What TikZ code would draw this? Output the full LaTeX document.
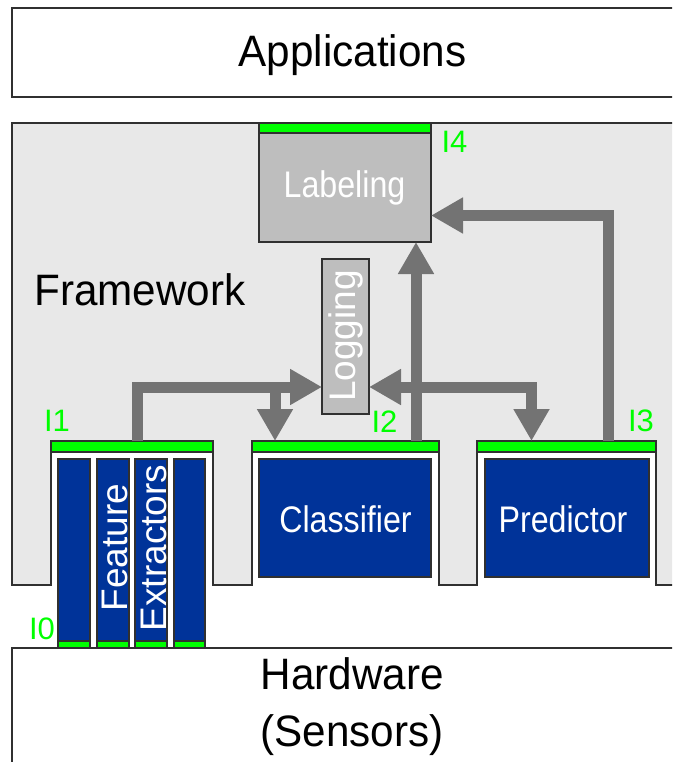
\documentclass[tikz,border=0pt]{standalone}
\usepackage{fontspec}
\usepackage{graphicx}
\setmainfont{Liberation Sans}
\usetikzlibrary{arrows.meta}
\definecolor{fwgray}{HTML}{E8E8E8}
\definecolor{lggray}{HTML}{BEBEBE}
\definecolor{modblue}{HTML}{003399}
\definecolor{ifgreen}{HTML}{00FF00}
\definecolor{arrgray}{HTML}{737373}
\definecolor{edgec}{HTML}{303030}
\newcommand{\bigtxt}[1]{\fontsize{44}{44}\selectfont\scalebox{0.96}[1]{#1}}
\newcommand{\midtxt}[1]{\fontsize{37}{37}\selectfont\scalebox{0.87}[1]{#1}}
\begin{document}
\begin{tikzpicture}[x=1pt,y=1pt,
  rbox/.style={draw=edgec, line width=1.2pt, inner sep=0pt, outer sep=0pt, anchor=north west},
  gbar/.style={rbox, fill=ifgreen},
  modbox/.style={rbox, fill=modblue},
  lgbox/.style={rbox, fill=lggray},
  whitebox/.style={rbox, fill=white},
  iflabel/.style={font=\fontsize{31}{31}\selectfont, text=ifgreen, inner sep=0pt},
  vtxt/.style={font=\fontsize{37}{37}\selectfont, text=white, inner sep=0pt, rotate=90, anchor=base},
  plaintxt/.style={inner sep=0pt},
  arr/.style={draw=arrgray, line width=11pt, line join=miter,
    -{Triangle[length=32pt,width=34pt]}},
  darr/.style={draw=arrgray, line width=11pt, line join=miter,
    {Triangle[length=32pt,width=34pt]}-{Triangle[length=32pt,width=34pt]}}
]
\useasboundingbox (0,0) rectangle (672,-762);
\clip (0,0) rectangle (672,-762);
\fill[white] (0,0) rectangle (672,-762);

% Applications
\node[whitebox, minimum width=700pt, minimum height=89pt] (app) at (12,-8) {};
\node[plaintxt, anchor=base] (apptxt) at (352.5,-67) {\bigtxt{Applications}};

% Framework area with notches
\draw[draw=edgec, line width=1.2pt, fill=fwgray]
  (12,-123) -- (700,-123) -- (700,-585) -- (656,-585) -- (656,-441)
  -- (477,-441) -- (477,-585) -- (439,-585) -- (439,-441)
  -- (252,-441) -- (252,-585) -- (213,-585) -- (213,-441)
  -- (51,-441) -- (51,-585) -- (12,-585) -- cycle;
\node[plaintxt, anchor=base west] (fwtxt) at (34,-305) {\bigtxt{Framework}};

% Hardware
\node[whitebox, minimum width=700pt, minimum height=150pt] (hw) at (12,-648) {};
\node[plaintxt, anchor=base] (hwtxt1) at (352.5,-689) {\bigtxt{Hardware}};
\node[plaintxt, anchor=base] (hwtxt2) at (352,-746) {\bigtxt{(Sensors)}};

% Labeling
\node[gbar, minimum width=172pt, minimum height=10pt] (i4bar) at (259,-123) {};
\node[lgbox, minimum width=172pt, minimum height=109pt] (labeling) at (259,-133) {};
\node[plaintxt, anchor=base, text=white] (labtxt) at (344.5,-197) {\midtxt{Labeling}};

% Logging
\node[lgbox, minimum width=47pt, minimum height=155pt] (logging) at (322,-259) {};
\node[vtxt] (logtxt) at (355,-336) {Logging};

% Interface bars
\node[gbar, minimum width=162pt, minimum height=11pt] (i1bar) at (51,-441) {};
\node[gbar, minimum width=187pt, minimum height=11pt] (i2bar) at (252,-441) {};
\node[gbar, minimum width=179pt, minimum height=11pt] (i3bar) at (477,-441) {};

% Classifier and Predictor
\node[modbox, minimum width=172pt, minimum height=118pt] (classifier) at (259,-459) {};
\node[plaintxt, anchor=base, text=white] (cltxt) at (345.5,-532) {\midtxt{Classifier}};
\node[modbox, minimum width=164pt, minimum height=118pt] (predictor) at (485,-459) {};
\node[plaintxt, anchor=base, text=white] (prtxt) at (563,-532) {\midtxt{Predictor}};

% Feature extractors
\node[modbox, minimum width=32pt, minimum height=182pt] (fe1) at (58,-459) {};
\node[modbox, minimum width=32pt, minimum height=182pt] (fe2) at (97,-459) {};
\node[modbox, minimum width=32pt, minimum height=182pt] (fe3) at (135,-459) {};
\node[modbox, minimum width=31pt, minimum height=182pt] (fe4) at (174,-459) {};
\node[gbar, minimum width=32pt, minimum height=7pt] (i0a) at (58,-641) {};
\node[gbar, minimum width=32pt, minimum height=7pt] (i0b) at (97,-641) {};
\node[gbar, minimum width=32pt, minimum height=7pt] (i0c) at (135,-641) {};
\node[gbar, minimum width=31pt, minimum height=7pt] (i0d) at (174,-641) {};
\node[vtxt] (fetxt1) at (127,-547.5) {Feature};
\node[vtxt] (fetxt2) at (166,-548) {Extractors};

% Interface labels
\node[iflabel] (l0) at (42,-628.5) {I0};
\node[iflabel] (l1) at (57,-421) {I1};
\node[iflabel] (l2) at (384.5,-421.5) {I2};
\node[iflabel] (l3) at (641,-421) {I3};
\node[iflabel] (l4) at (454.5,-141.5) {I4};

% Connectors
\coordinate (logw) at ([yshift=-50.5pt]logging.west);
\coordinate (loge) at ([yshift=-50.5pt]logging.east);
\coordinate (fesrc) at ([xshift=86pt]i1bar.north west);
\coordinate (cltgt) at ([xshift=23pt]i2bar.north west);
\coordinate (clsrc) at ([xshift=164pt]i2bar.north west);
\coordinate (prtgt) at ([xshift=54.5pt]i3bar.north west);
\coordinate (prsrc) at ([xshift=131.5pt]i3bar.north west);
\coordinate (labe) at ([yshift=-28pt]labeling.east);

\draw[arr] (fesrc) |- (logw);
\draw[arr] (logw -| cltgt) -- (cltgt);
\draw[darr] (loge) -| (prtgt);
\draw[arr] (clsrc) -- (clsrc |- labeling.south);
\draw[arr] (prsrc) |- (labe);
\end{tikzpicture}
\end{document}
